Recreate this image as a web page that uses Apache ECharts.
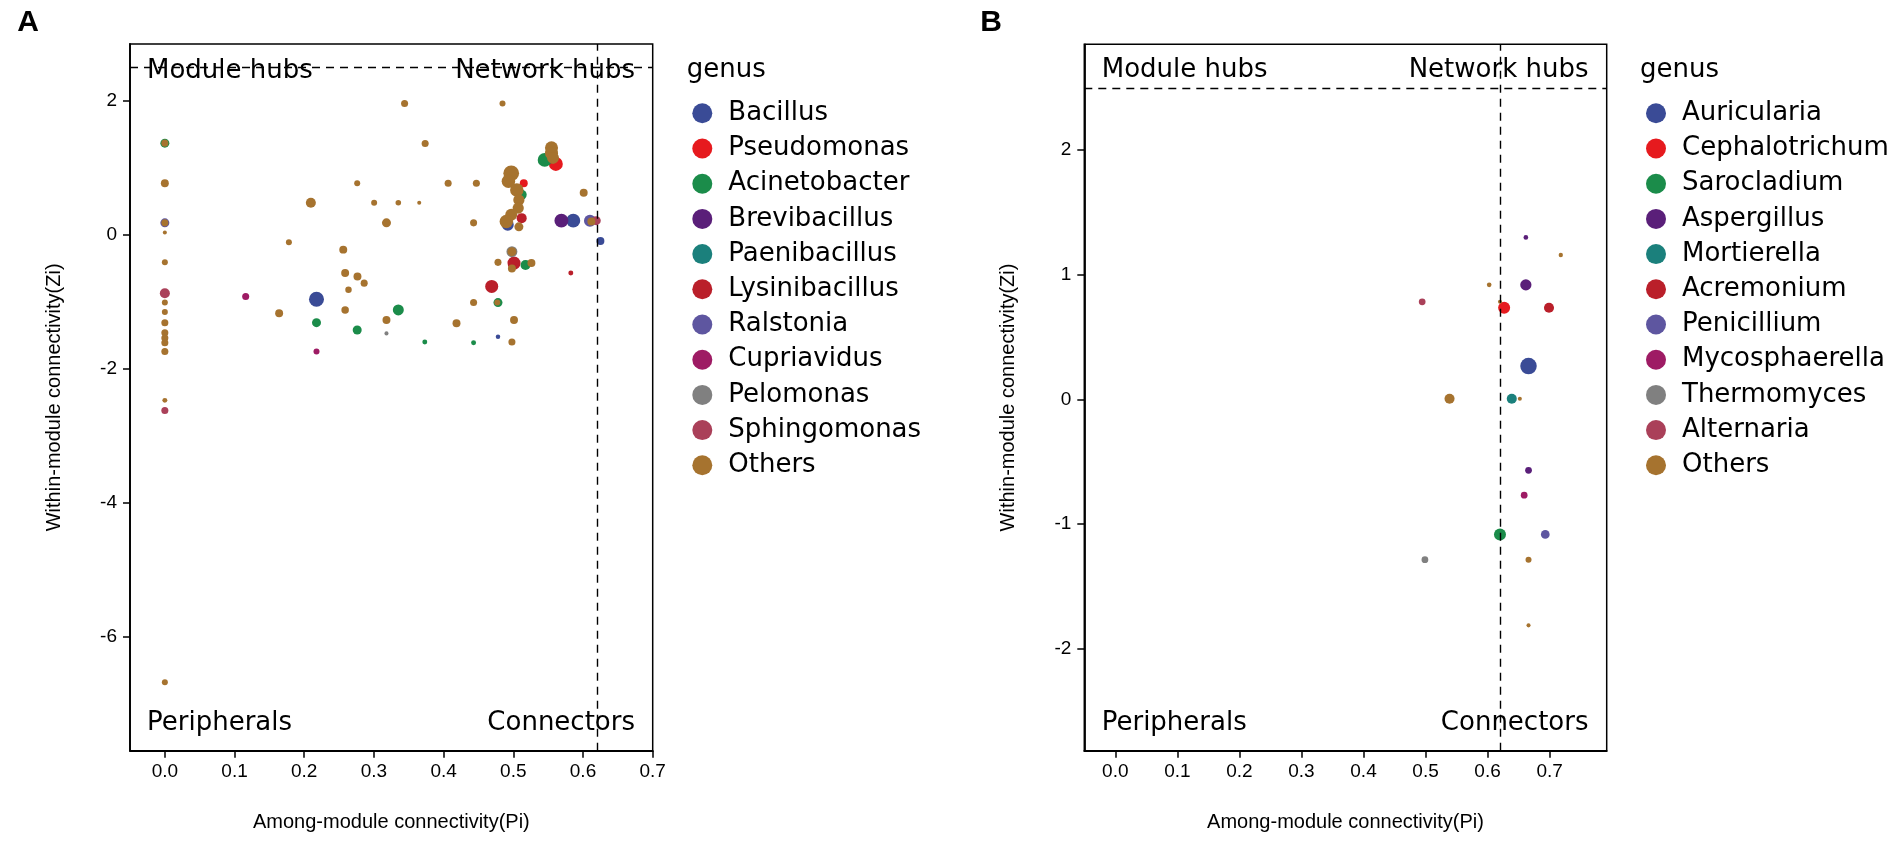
<!DOCTYPE html>
<html>
<head>
<meta charset="utf-8">
<script src="https://cdn.jsdelivr.net/npm/echarts@6/dist/echarts.min.js"></script>
<style>
html,body{margin:0;padding:0;background:#fff;}
#c{width:1902px;height:842px;}
</style>
</head>
<body>
<div id="c"></div>
<script>
// ---------------- DATA ----------------
// Each point: [Pi (among-module connectivity), Zi (within-module connectivity), degree (point size value)]
const genusA = ["Bacillus","Pseudomonas","Acinetobacter","Brevibacillus","Paenibacillus","Lysinibacillus","Ralstonia","Cupriavidus","Pelomonas","Sphingomonas","Others"];
const genusB = ["Auricularia","Cephalotrichum","Sarocladium","Aspergillus","Mortierella","Acremonium","Penicillium","Mycosphaerella","Thermomyces","Alternaria","Others"];

const A_Bacillus = [[0.2176,-0.96,10],[0.586,0.213,9.3],[0.625,-0.09,5.3],[0.478,-1.52,3],[0.492,0.15,8]];
const A_Pseudomonas = [[0.561,1.06,9.3],[0.515,0.77,5.3]];
const A_Acinetobacter = [[0,1.37,6],[0.545,1.12,9.3],[0.512,0.6,6.7],[0.5175,-0.45,6.7],[0.2176,-1.31,6],[0.276,-1.42,6],[0.335,-1.12,7.3],[0.373,-1.6,3.3],[0.443,-1.61,3.3],[0.478,-1.01,6]];
const A_Brevibacillus = [[0.569,0.213,9.3]];
const A_Paenibacillus = [];
const A_Lysinibacillus = [[0.469,-0.77,8.7],[0.501,-0.42,8.7],[0.5825,-0.57,3.3],[0.512,0.25,6.7]];
const A_Ralstonia = [[0.61,0.213,8],[0,0.18,6]];
const A_Cupriavidus = [[0.116,-0.92,4.7],[0.2176,-1.74,4]];
const A_Pelomonas = [[0.318,-1.47,2.7],[0.498,-0.25,7.3]];
const A_Sphingomonas = [[0,-0.87,6.7],[0,-2.62,4.7],[0.619,0.213,6]];
const A_Others = [
  [0,1.37,4.7],[0,0.77,5.3],[0,0.18,4.7],[0,0.035,2.7],[0,-0.41,4],[0,-1.01,4],[0,-1.15,4],
  [0,-1.31,4.7],[0,-1.46,4.7],[0,-1.54,4.7],[0,-1.61,4.7],[0,-1.74,4.7],[0,-2.47,3.3],[0,-6.68,4],
  [0.344,1.963,4.7],[0.4845,1.963,4],[0.3735,1.366,4.7],[0.276,0.77,4],[0.4065,0.77,4.7],[0.447,0.77,4.7],
  [0.2095,0.48,6.7],[0.3003,0.48,4],[0.335,0.48,3.7],[0.365,0.48,2.7],[0.318,0.18,6],[0.443,0.18,4.7],
  [0.178,-0.11,4],[0.256,-0.22,5.3],[0.2587,-0.57,5.3],[0.2764,-0.62,5.3],[0.286,-0.72,4.7],[0.2635,-0.82,4.3],
  [0.2587,-1.12,5],[0.164,-1.17,5.3],[0.318,-1.27,5.3],[0.4185,-1.32,5.3],[0.443,-1.01,4.7],[0.478,-0.41,4.7],
  [0.498,-0.25,6],[0.498,-0.5,5.3],[0.526,-0.42,5.3],[0.501,-1.27,5.3],[0.498,-1.6,4.7],[0.601,0.63,5.3],
  [0.612,0.2,5.3],[0.477,-1.01,4],
  [0.497,0.92,10.5],[0.493,0.8,9],[0.505,0.67,9],[0.508,0.52,7.5],[0.507,0.4,7.5],[0.497,0.3,8],[0.49,0.2,9],[0.508,0.12,6],
  [0.5548,1.3,8.7],[0.5548,1.22,8.7],[0.557,1.15,8]
];

const B_Auricularia = [[0.666,0.267,11]];
const B_Cephalotrichum = [[0.6267,0.735,8]];
const B_Sarocladium = [[0.62,-1.084,8]];
const B_Aspergillus = [[0.6617,1.3,3.1],[0.6617,0.919,7.5],[0.666,-0.569,4.5]];
const B_Mortierella = [[0.639,0.005,6.7]];
const B_Acremonium = [[0.699,0.735,6.7]];
const B_Penicillium = [[0.693,-1.084,5.8]];
const B_Mycosphaerella = [[0.659,-0.769,4.5]];
const B_Thermomyces = [[0.499,-1.287,4.5]];
const B_Alternaria = [[0.4946,0.783,4.5]];
const B_Others = [[0.718,1.159,2.9],[0.6026,0.919,3.1],[0.62,0.783,2.7],[0.5387,0.005,6.7],[0.652,0.005,2.7],[0.666,-1.287,4],[0.666,-1.814,2.7]];

const seriesA = [A_Bacillus,A_Pseudomonas,A_Acinetobacter,A_Brevibacillus,A_Paenibacillus,A_Lysinibacillus,A_Ralstonia,A_Cupriavidus,A_Pelomonas,A_Sphingomonas,A_Others];
const seriesB = [B_Auricularia,B_Cephalotrichum,B_Sarocladium,B_Aspergillus,B_Mortierella,B_Acremonium,B_Penicillium,B_Mycosphaerella,B_Thermomyces,B_Alternaria,B_Others];

const xTicks = [0,0.1,0.2,0.3,0.4,0.5,0.6,0.7];
const yTicksA = [-6,-4,-2,0,2];
const yTicksB = [-2,-1,0,1,2];
const zThreshold = 2.5;
const pThreshold = 0.62;

// ---------------- STYLE ----------------
const palette = ["#3A4B96","#E61A1E","#1B8C4A","#5A1F79","#1B807C","#BA1F2A","#5E56A0","#9E1B64","#808080","#AA4059","#A6732F"];
const tickFont = "'Liberation Sans', Arial, sans-serif";
const annFont = "'DejaVu Sans', sans-serif";
const sizeOf = v => v[2] * 1.5;

const gridA = {left:130, top:44, width:522.7, height:706.7};
const gridB = {left:1084.3, top:44.3, width:522.4, height:706.4};

function xAxisCfg(idx, max){
  return {
    type:'value', gridIndex:idx, min:-0.05, max:max,
    name:'Among-module connectivity(Pi)', nameLocation:'middle', nameGap:62,
    nameTextStyle:{fontFamily:tickFont, fontSize:20, color:'#000'},
    axisLine:{show:true, onZero:false, lineStyle:{color:'#000', width:1.8}},
    axisTick:{show:true, length:7, lineStyle:{color:'#000', width:1.5}, customValues:xTicks},
    axisLabel:{fontFamily:tickFont, fontSize:19, color:'#000', margin:12, customValues:xTicks,
      formatter:v=>Number(v).toFixed(1)},
    splitLine:{show:false}
  };
}
function yAxisCfg(idx, min, max, ticks){
  return {
    type:'value', gridIndex:idx, min:min, max:max,
    name:'Within-module connectivity(Zi)', nameLocation:'middle', nameGap:66,
    nameTextStyle:{fontFamily:tickFont, fontSize:20, color:'#000'},
    axisLine:{show:true, onZero:false, lineStyle:{color:'#000', width:1.8}},
    axisTick:{show:true, length:7, lineStyle:{color:'#000', width:1.5}, customValues:ticks},
    axisLabel:{fontFamily:tickFont, fontSize:19, color:'#000', margin:13, customValues:ticks},
    splitLine:{show:false}
  };
}

const markLineCfg = {
  silent:true, symbol:['none','none'], animation:false,
  label:{show:false},
  lineStyle:{color:'#000', type:[8,6], width:1.4},
  data:[{yAxis:zThreshold},{xAxis:pThreshold}]
};

const series = [];
genusA.forEach((g,i)=>{
  const s = {type:'scatter', name:g, xAxisIndex:0, yAxisIndex:0, data:seriesA[i],
    symbol:'circle', symbolSize:sizeOf, itemStyle:{color:palette[i], opacity:1}, z:3, animation:false};
  if(i===genusA.length-1) s.markLine = markLineCfg;
  series.push(s);
});
genusB.forEach((g,i)=>{
  const s = {type:'scatter', name:g, xAxisIndex:1, yAxisIndex:1, data:seriesB[i],
    symbol:'circle', symbolSize:sizeOf, itemStyle:{color:palette[i], opacity:1}, z:3, animation:false};
  if(i===genusB.length-1) s.markLine = markLineCfg;
  series.push(s);
});

function legendCfg(names, left){
  return {
    orient:'vertical', left:left, top:100.3, padding:0,
    itemWidth:20, itemHeight:20, itemGap:9.2, icon:'circle',
    data:names, selectedMode:false,
    textStyle:{fontFamily:annFont, fontSize:26, color:'#000', lineHeight:26, padding:[0,0,0,11]}
  };
}

function txt(x, y, s, align, size, font, weight){
  return {type:'text', x:x, y:y, z:1, silent:true,
    style:{text:s, fill:'#000', font:(weight||'normal')+' '+size+'px '+font, textAlign:align, textVerticalAlign:'middle'}};
}

const graphics = [
  txt(28, 23, 'A', 'center', 30, tickFont, 'bold'),
  txt(991, 23, 'B', 'center', 30, tickFont, 'bold'),
  txt(147, 71, 'Module hubs', 'left', 26, annFont),
  txt(635, 71, 'Network hubs', 'right', 26, annFont),
  txt(147, 723, 'Peripherals', 'left', 26, annFont),
  txt(635, 723, 'Connectors', 'right', 26, annFont),
  txt(1101.7, 70, 'Module hubs', 'left', 26, annFont),
  txt(1588.5, 70, 'Network hubs', 'right', 26, annFont),
  txt(1101.7, 723, 'Peripherals', 'left', 26, annFont),
  txt(1588.5, 723, 'Connectors', 'right', 26, annFont),
  txt(686.7, 70, 'genus', 'left', 26, annFont),
  txt(1640, 70, 'genus', 'left', 26, annFont)
];

const chart = echarts.init(document.getElementById('c'), null, {renderer:'canvas'});
chart.setOption({
  backgroundColor:'#fff',
  animation:false,
  grid:[
    Object.assign({show:true, borderColor:'#000', borderWidth:1.5, backgroundColor:'transparent'}, gridA),
    Object.assign({show:true, borderColor:'#000', borderWidth:1.5, backgroundColor:'transparent'}, gridB)
  ],
  xAxis:[xAxisCfg(0, 0.7), xAxisCfg(1, 0.792)],
  yAxis:[yAxisCfg(0, -7.70, 2.85, yTicksA), yAxisCfg(1, -2.82, 2.85, yTicksB)],
  legend:[legendCfg(genusA, 692.3), legendCfg(genusB, 1646)],
  graphic:graphics,
  series:series
});
</script>
</body>
</html>
